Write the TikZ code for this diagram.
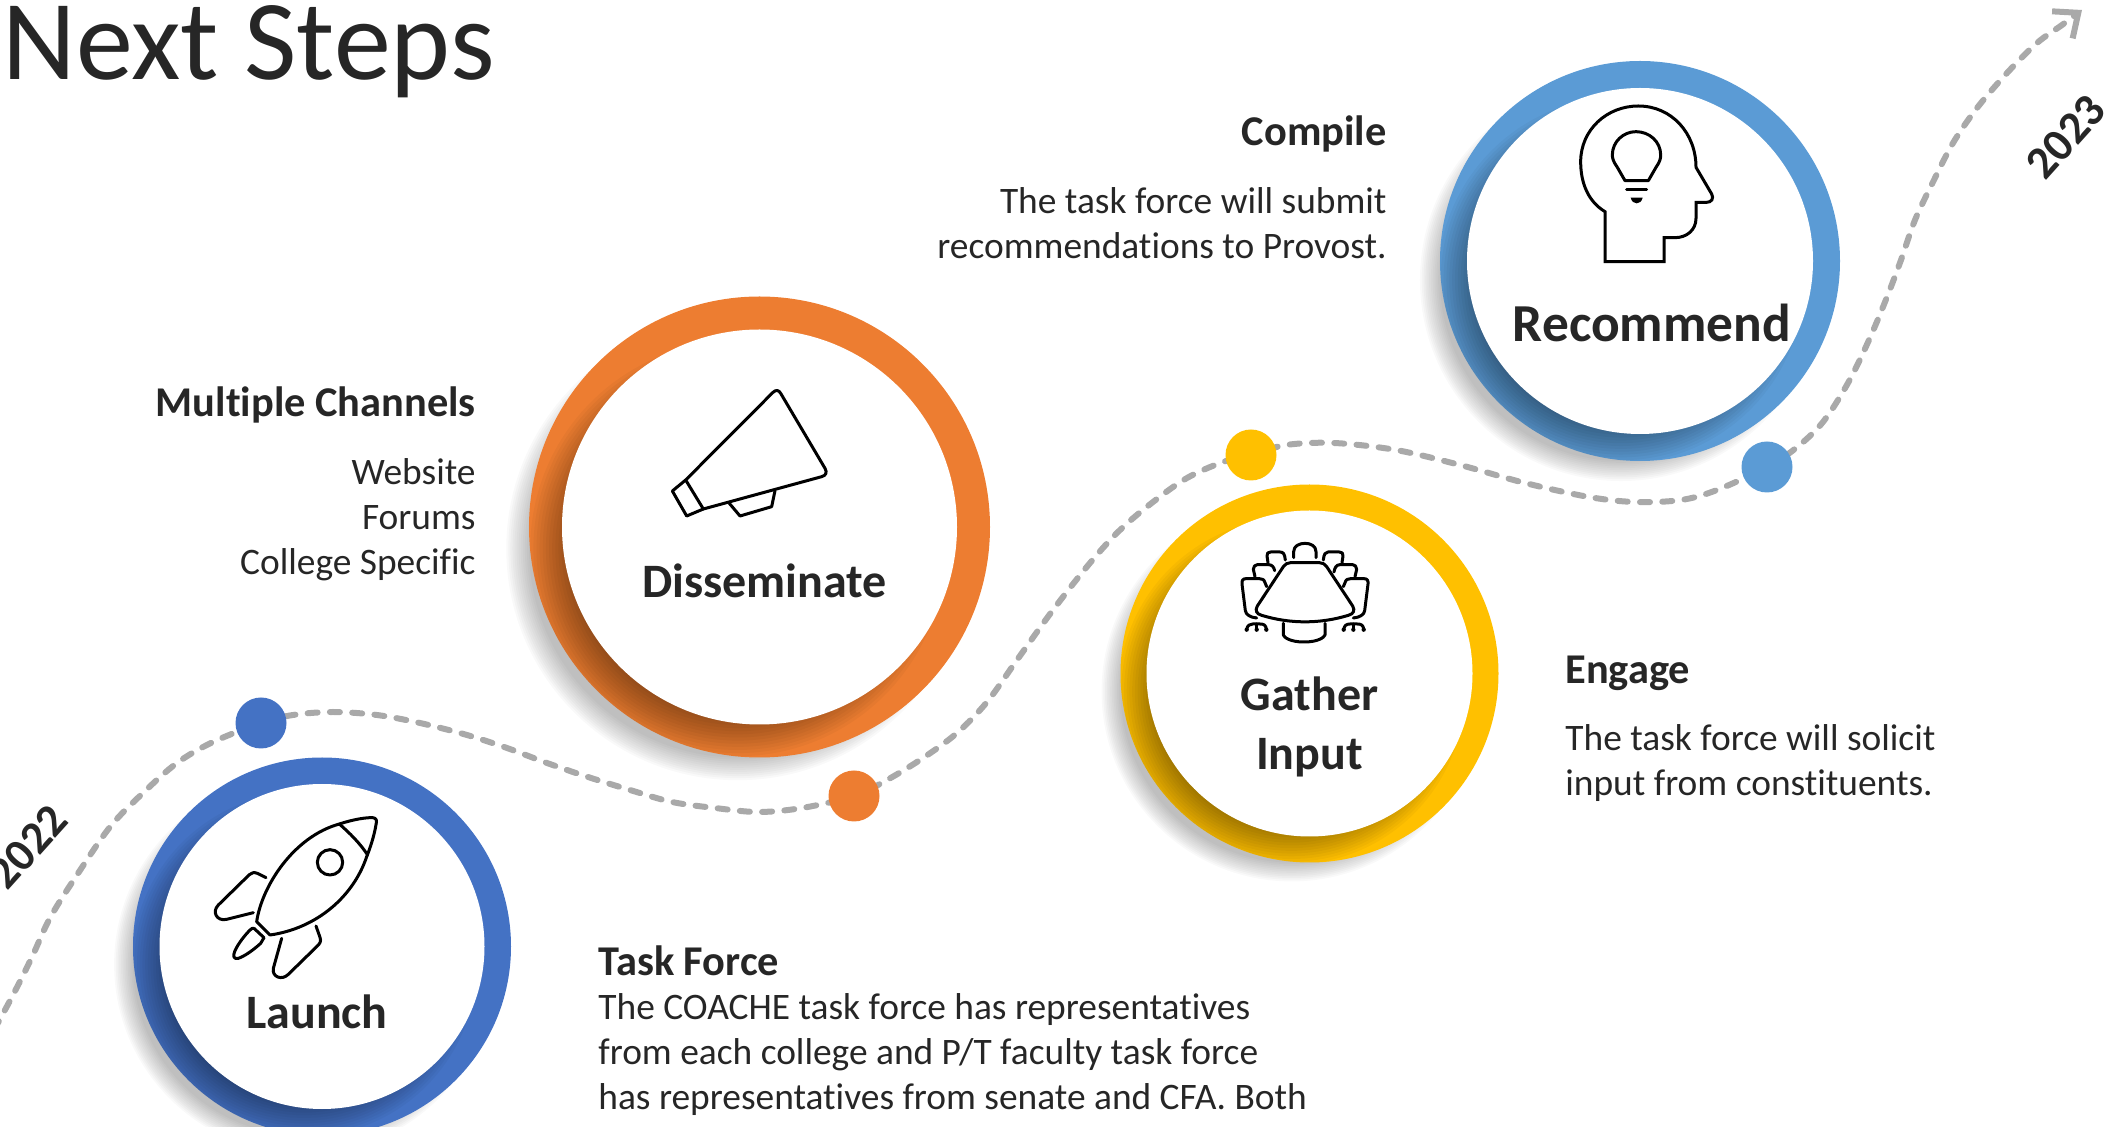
\documentclass[tikz,border=0pt]{standalone}
\usepackage{fontspec}
\setmainfont[Ligatures={NoCommon}]{Carlito}
\usetikzlibrary{arrows.meta,backgrounds}
\definecolor{ringblue}{HTML}{4472C4}
\definecolor{ringorange}{HTML}{ED7D31}
\definecolor{ringyellow}{HTML}{FFC000}
\definecolor{ringsky}{HTML}{5B9BD5}
\definecolor{ink}{HTML}{262626}
\definecolor{pathgrey}{HTML}{A9A9A9}
\tikzset{
  ringouter/.style={circle,inner sep=0pt,outer sep=0pt},
  ringinner/.style={circle,inner sep=0pt,outer sep=0pt,fill=white},
  dot/.style={circle,inner sep=0pt,outer sep=0pt,minimum size=25.5pt},
  ringlabel/.style={font=\fontsize{24}{29.5}\selectfont\bfseries,text=ink,inner sep=0pt,anchor=base,align=center},
  head/.style={font=\fontsize{21.2}{24}\selectfont\bfseries,text=ink,inner sep=0pt},
  body/.style={font=\fontsize{18.7}{22.5}\selectfont,text=ink,inner sep=0pt},
  year/.style={font=\fontsize{23}{28}\selectfont\bfseries,text=ink,inner sep=0pt},
  icon/.style={draw=black,line width=1.5pt,line cap=round,line join=round},
  route/.style={draw=pathgrey,line width=3pt,line cap=round,dash pattern=on 5pt off 6.15pt},
}
\newcommand{\ringshape}[6]{%
  \pgfmathsetmacro{\offs}{0.11*#5}%
  \foreach \k in {0,...,11}{%
    \pgfmathsetmacro{\rad}{#4-\offs+(\offs+1)*\k/11}%
    \fill[black,opacity=.022] ({#2-\offs},{#3+\offs}) circle[radius=\rad];
  }%
  \node[ringouter,fill=#6,minimum size=#4pt] (#1) at (#2,#3) {};
  \begin{scope}
    \clip (#2,#3) circle[radius=#4];
    \foreach \k in {0,...,13}{%
      \pgfmathsetmacro{\rad}{#5-1.41*\offs+(1.41*\offs+10)*\k/13}%
      \fill[black,opacity=.03] ({#2-\offs},{#3+\offs}) circle[radius=\rad];
    }%
  \end{scope}
  \node[ringinner,minimum size=#5pt] (#1in) at (#2,#3) {};
}
\begin{document}
\begin{tikzpicture}[x=0.5pt,y=-0.5pt]
\useasboundingbox (0,0) rectangle (2106,1127);
\clip (0,0) rectangle (2106,1127);

% title
\node[font=\fontsize{57}{60}\selectfont,text=black!85,inner sep=0pt,anchor=base west] (title) at (2,80) {Next Steps};

% rings
\ringshape{launch}{322}{946.5}{189}{162.5}{ringblue}
\ringshape{dissem}{759.5}{527}{230.5}{197.5}{ringorange}
\ringshape{gather}{1309.5}{673.5}{189}{163}{ringyellow}
\ringshape{recomm}{1640}{261}{200}{173}{ringsky}

% dots
\node[dot,fill=ringblue]   (dota) at (261,723) {};
\node[dot,fill=ringorange] (dotb) at (854,796) {};
\node[dot,fill=ringyellow] (dotc) at (1251,455) {};
\node[dot,fill=ringsky]    (dotd) at (1767,467) {};

\coordinate (routestart) at (-6,1030);
\coordinate (routeend) at (2082,10);
\begin{pgfonlayer}{background}
\draw[route,-{Straight Barb[length=10pt,width=17pt]}] plot[smooth,tension=0.55] coordinates {
 (routestart) (13,995) (32,957) (50,918) (75,878) (110,827) (143,793) (177,763) (213,742)
 (dota.center) (293,715) (333,712) (377,715) (420,723) (467,735) (507,748) (547,763) (588,777) (630,790) (672,802) (715,808) (758,812) (802,808)
 (dotb.center) (887,780) (923,758) (957,733) (987,702) (1017,660) (1053,610) (1090,563) (1120,530) (1153,502) (1187,478) (1223,462)
 (dotc.center) (1286,445) (1334,443) (1396,450) (1460,465) (1525,483) (1589,497) (1635,502) (1681,500) (1717,490)
 (dotd.center) (1796,448) (1823,422) (1848,383) (1869,340) (1887,297) (1901,260) (1915,220) (1933,182) (1953,143) (1977,108) (2007,73) (2037,43) (2062,25)
 (routeend)};
\end{pgfonlayer}

% ring labels
\node[ringlabel] (lblaunch) at (317,1029) {Launch};
\node[ringlabel] (lbdissem) at (764.5,598) {Disseminate};
\node[ringlabel] (lbgather) at (1309.5,770) {Gather\\Input};
\node[ringlabel,font=\fontsize{26.7}{30}\selectfont\bfseries] (lbrecomm) at (1652,342) {Recommend};

% years
\node[year,rotate=48] (y22) at (28,847) {2022};
\node[year,rotate=48] (y23) at (2066,137) {2023};

% text blocks
\node[head,anchor=base east] (h1) at (1387,146) {Compile};
\node[body,anchor=base east,align=right] (b1) at (1387,259) {The task force will submit\\recommendations to Provost.};
\node[head,anchor=base east] (h2) at (476,417) {Multiple Channels};
\node[body,anchor=base east,align=right] (b2) at (476,575) {Website\\Forums\\College Specific};
\node[head,anchor=base west] (h3) at (1565,684) {Engage};
\node[body,anchor=base west,align=left] (b3) at (1565,796) {The task force will solicit\\input from constituents.};
\node[head,anchor=base west] (h4) at (598,976) {Task Force};
\node[body,anchor=base west,align=left] (b4) at (598,1109) {The COACHE task force has representatives\\from each college and P/T faculty task force\\has representatives from senate and CFA. Both};

% rocket
\begin{scope}[shift={(0,680)},x=0.16667pt,y=-0.16667pt]
\draw[icon] (770,725) .. controls (785,620) and (880,470) .. (1018,432) .. controls (1060,418) and (1100,412) .. (1118,413) .. controls (1130,414) and (1131,422) .. (1128,434) .. controls (1122,470) and (1110,505) .. (1100,530) .. controls (1060,650) and (950,745) .. (810,765) -- cycle;
\draw[icon] (1018,432) .. controls (1050,460) and (1080,490) .. (1103,525);
\draw[icon] (990,547) circle[radius=38];
\draw[icon] (798,593) -- (772,580) .. controls (762,576) and (755,578) .. (748,584) -- (655,675) .. controls (635,695) and (650,725) .. (680,718) -- (760,698);
\draw[icon] (948,738) -- (960,772) .. controls (964,784) and (960,790) .. (952,798) -- (865,883) .. controls (845,903) and (815,890) .. (820,865) -- (845,775);
\draw[icon] (762,745) -- (792,773) -- (782,790) .. controls (760,810) and (735,828) .. (715,835) .. controls (700,838) and (698,828) .. (705,812) .. controls (715,790) and (735,765) .. (750,750) .. controls (755,745) and (758,744) .. (762,745);
\end{scope}

% megaphone
\begin{scope}[shift={(520,290)},x=0.16667pt,y=-0.16667pt]
\draw[icon] (497,570) -- (758,308) .. controls (768,298) and (776,300) .. (782,310) -- (915,535) .. controls (922,548) and (918,556) .. (905,560) -- (550,657) -- cycle;
\draw[icon] (497,570) -- (457,603) -- (500,678) -- (550,657);
\draw[icon] (628,640) -- (660,678) -- (755,650) -- (765,602);
\end{scope}

% boardroom table
\begin{scope}[shift={(1200,520)},x=0.16667pt,y=-0.16667pt]
\draw[icon] (272,128) -- (358,128) .. controls (368,128) and (374,132) .. (380,140) -- (458,258) .. controls (466,272) and (460,282) .. (445,286) .. controls (360,312) and (270,312) .. (185,286) .. controls (170,282) and (164,272) .. (172,258) -- (250,140) .. controls (256,132) and (262,128) .. (272,128) -- cycle;
\draw[icon] (250,310) -- (250,345) .. controls (252,352) and (270,366) .. (312,366) .. controls (355,366) and (372,352) .. (375,345) -- (375,310);
\draw[icon] (281,113) -- (281,95) .. controls (281,78) and (298,70) .. (315,70) .. controls (332,70) and (348,78) .. (348,95) -- (348,113);
\draw[icon] (204,128) -- (201,108) .. controls (200,100) and (204,96) .. (212,96) -- (240,96) .. controls (250,96) and (254,102) .. (256,120);
\draw[icon] (426,128) -- (429,108) .. controls (430,100) and (426,96) .. (418,96) -- (384,96) .. controls (376,96) and (372,102) .. (370,120);
\draw[icon] (165,170) -- (160,148) .. controls (160,140) and (165,134) .. (172,134) -- (206,134) .. controls (216,134) and (222,142) .. (224,152);
\draw[icon] (465,170) -- (470,148) .. controls (470,140) and (465,134) .. (458,134) -- (420,134) .. controls (410,134) and (404,142) .. (402,156);
\draw[icon] (200,200) -- (195,188) .. controls (192,178) and (186,176) .. (178,176) -- (138,176) .. controls (128,176) and (125,182) .. (126,192) -- (136,272) .. controls (138,284) and (150,292) .. (170,294);
\draw[icon] (430,200) -- (435,188) .. controls (438,178) and (444,176) .. (452,176) -- (492,176) .. controls (502,176) and (505,182) .. (504,192) -- (494,272) .. controls (492,284) and (480,292) .. (460,294);
\draw[icon] (140,328) .. controls (142,316) and (150,312) .. (158,312) -- (180,312) .. controls (192,312) and (198,316) .. (199,328);
\draw[icon] (170,312) -- (170,328);
\draw[icon] (431,328) .. controls (433,316) and (440,312) .. (450,312) -- (472,312) .. controls (484,312) and (490,316) .. (491,328);
\draw[icon] (460,312) -- (460,328);
\foreach \cx in {140,170,199,431,460,491} {\fill[black] (\cx,329) circle[radius=6.5];}
\end{scope}

% head with bulb
\begin{scope}[shift={(1530,90)},x=0.16667pt,y=-0.16667pt]
\draw[icon,line join=miter] (225,515) -- (225,365) .. controls (175,335) and (152,280) .. (152,215) .. controls (152,120) and (230,48) .. (325,48) .. controls (425,48) and (498,130) .. (498,232) -- (545,312) .. controls (552,325) and (545,337) .. (530,337) -- (498,337) -- (498,385) .. controls (498,420) and (470,443) .. (435,443) -- (402,443) -- (402,515) -- cycle;
\draw[icon] (285,272) -- (355,272) -- (378,232) .. controls (390,215) and (392,205) .. (392,195) .. controls (392,155) and (358,125) .. (318,125) .. controls (280,125) and (247,155) .. (247,195) .. controls (247,205) and (250,215) .. (262,232) -- cycle;
\draw[icon] (290,300) -- (350,300);
\fill[black] (302,323) -- (338,323) .. controls (335,335) and (328,340) .. (320,340) .. controls (312,340) and (305,335) .. (302,323) -- cycle;
\end{scope}
\end{tikzpicture}
\end{document}
